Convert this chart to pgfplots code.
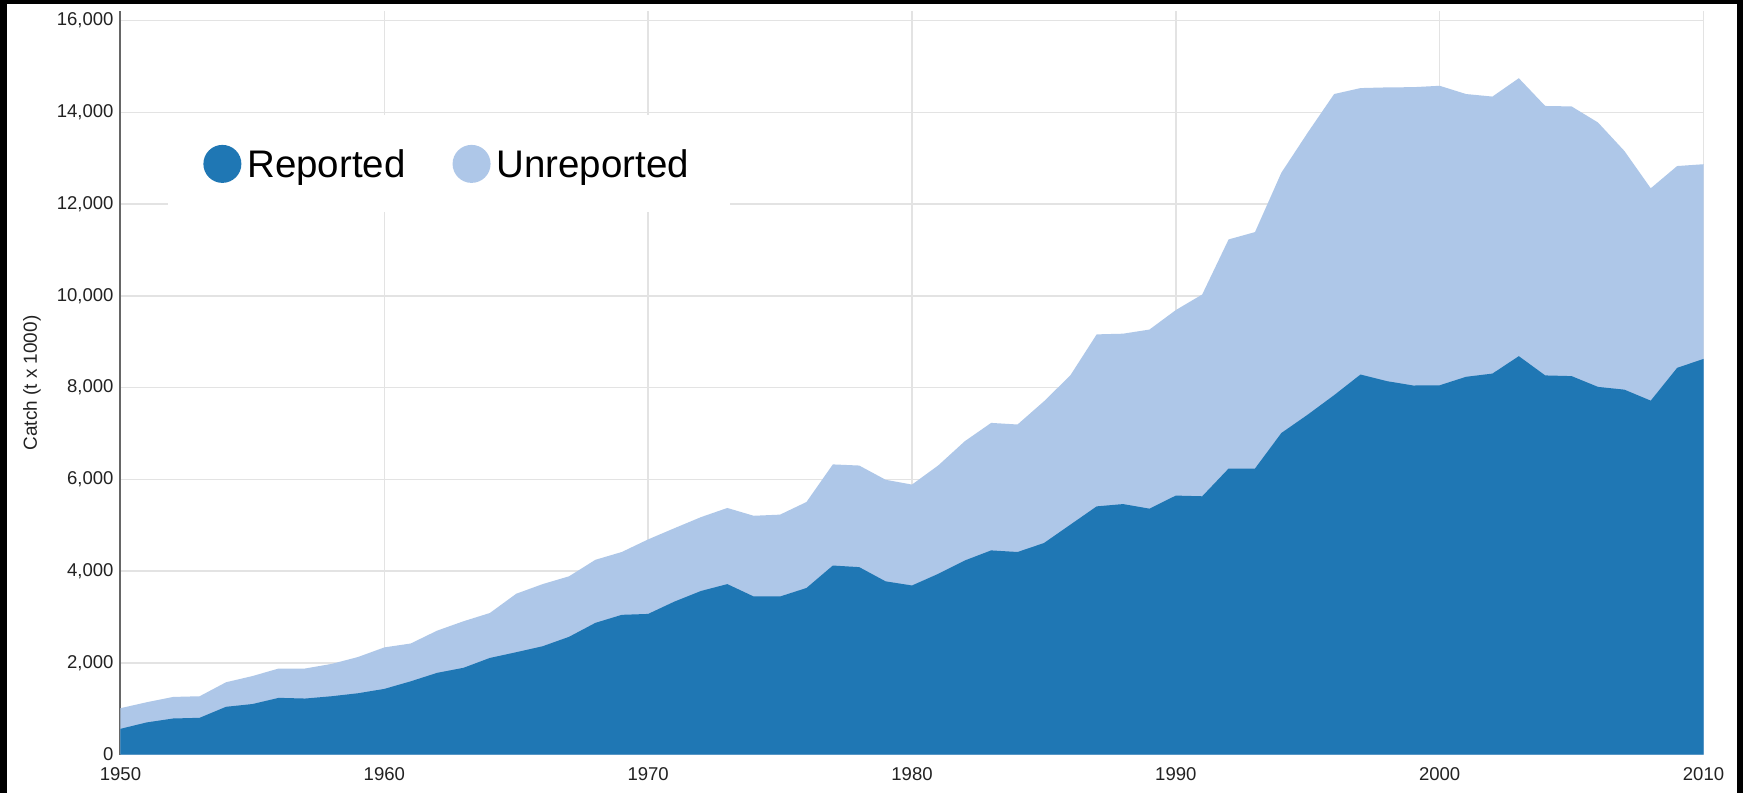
\documentclass[border=0pt]{standalone}
\usepackage{pgfplots}
\usepackage{pgfplotstable}
\pgfplotsset{compat=1.18}
\usepackage{fontspec}
\setmainfont{Liberation Sans}
\definecolor{repblue}{HTML}{1F77B4}
\definecolor{unrepblue}{HTML}{AEC7E8}
\definecolor{gridgray}{HTML}{E3E3E3}
\definecolor{axisgray}{HTML}{666666}
\definecolor{labeltext}{HTML}{222222}

\pgfplotstableread{
year reported total
1950 560 1010
1951 700 1140
1952 785 1255
1953 800 1270
1954 1040 1575
1955 1100 1710
1956 1235 1875
1957 1220 1875
1958 1270 1975
1959 1335 2125
1960 1430 2335
1961 1595 2420
1962 1780 2700
1963 1890 2905
1964 2105 3085
1965 2230 3505
1966 2360 3715
1967 2565 3885
1968 2870 4245
1969 3045 4415
1970 3065 4690
1971 3335 4935
1972 3565 5175
1973 3715 5375
1974 3445 5205
1975 3445 5230
1976 3630 5505
1977 4120 6325
1978 4085 6300
1979 3775 5990
1980 3685 5885
1981 3940 6305
1982 4230 6830
1983 4450 7230
1984 4415 7195
1985 4610 7700
1986 5010 8265
1987 5410 9160
1988 5460 9175
1989 5360 9265
1990 5645 9690
1991 5630 10030
1992 6235 11230
1993 6235 11390
1994 7010 12685
1995 7410 13560
1996 7835 14400
1997 8285 14530
1998 8140 14545
1999 8045 14550
2000 8050 14580
2001 8235 14400
2002 8305 14345
2003 8685 14745
2004 8265 14140
2005 8250 14130
2006 8015 13780
2007 7955 13160
2008 7715 12345
2009 8430 12830
2010 8625 12870
}\catchdata

\begin{document}
\begin{tikzpicture}
\useasboundingbox (-60.25bp,-19.25bp) rectangle (811.25bp,377.25bp);
\fill[white] (-60.25bp,-19.25bp) rectangle (811.25bp,377.25bp);
\begin{axis}[
  at={(0,0)}, anchor=south west,
  width=791.5bp, height=371.5bp, scale only axis,
  xmin=1950, xmax=2010, ymin=0, ymax=16200,
  xtick={1950,1960,...,2010},
  ytick={0,2000,...,16000},
  scaled y ticks=false, scaled x ticks=false,
  grid=major,
  major grid style={draw=gridgray, line width=0.75bp},
  axis x line*=bottom, axis y line*=left,
  axis line style={-},
  x axis line style={draw=gridgray, line width=0.75bp},
  y axis line style={draw=axisgray, line width=1bp},
  tick style={draw=none},
  /pgf/number format/assume math mode=true,
  tick label style={font=\fontsize{9.3}{11}\selectfont, text=labeltext},
  xticklabel style={/pgf/number format/1000 sep={}, yshift=-2.9bp},
  yticklabel style={/pgf/number format/1000 sep={,}},
  ylabel={Catch (t x 1000)},
  ylabel style={at={(axis description cs:-0.0559,0.5)}, anchor=center,
    font=\fontsize{9.5}{11}\selectfont, text=labeltext},
  legend columns=2,
  legend image code/.code={\fill[#1, draw=none] (9.5bp,0) circle (9.5bp);},
  legend style={at={(0.030,0.8607)}, anchor=north west, draw=none, fill=white,
    inner xsep=17.5bp, inner ysep=14.75bp,
    font=\fontsize{19.3}{22}\selectfont, text=black,
    nodes={inner xsep=3bp, inner ysep=0pt, text height=13.8bp, text depth=0pt},
    /tikz/every even column/.append style={column sep=20.5bp}},
]
\addplot[fill=unrepblue, draw=none, forget plot] table[x=year, y=total] {\catchdata} \closedcycle;
\addplot[fill=repblue, draw=none, forget plot] table[x=year, y=reported] {\catchdata} \closedcycle;
\addlegendimage{fill=repblue, draw=none}
\addlegendentry{Reported}
\addlegendimage{fill=unrepblue, draw=none}
\addlegendentry{Unreported}
\end{axis}
\fill[black] (-60.25bp,375.25bp) rectangle (811.25bp,377.25bp);
\fill[black] (-60.25bp,-19.25bp) rectangle (-56.75bp,377.25bp);
\fill[black] (808.25bp,-19.25bp) rectangle (811.25bp,377.25bp);
\end{tikzpicture}
\end{document}
